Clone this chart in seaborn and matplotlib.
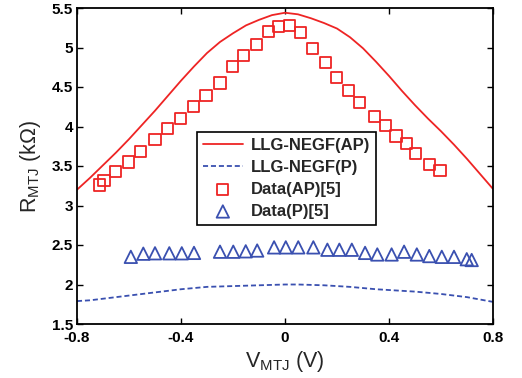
import matplotlib
matplotlib.use("Agg")
import matplotlib.pyplot as plt
import seaborn as sns
import pandas as pd

# Model curves (LLG-NEGF)
v_model = [-0.8, -0.75, -0.7, -0.65, -0.6, -0.55, -0.5, -0.45, -0.4, -0.35, -0.3,
           -0.25, -0.2, -0.15, -0.1, -0.05, 0.0, 0.05, 0.1, 0.15, 0.2, 0.25, 0.3,
           0.35, 0.4, 0.45, 0.5, 0.55, 0.6, 0.65, 0.7, 0.75, 0.8]
r_model_ap = [3.20, 3.35, 3.51, 3.67, 3.84, 4.02, 4.20, 4.39, 4.58, 4.76, 4.93,
              5.07, 5.18, 5.28, 5.35, 5.41, 5.44, 5.42, 5.37, 5.31, 5.24, 5.13, 4.99,
              4.82, 4.64, 4.45, 4.27, 4.10, 3.94, 3.77, 3.59, 3.40, 3.21]
r_model_p = [1.79, 1.80, 1.82, 1.84, 1.86, 1.88, 1.90, 1.92, 1.94, 1.955, 1.97,
             1.975, 1.98, 1.985, 1.99, 1.995, 2.00, 2.00, 1.995, 1.99, 1.98, 1.97, 1.955,
             1.94, 1.93, 1.92, 1.91, 1.895, 1.88, 1.86, 1.84, 1.81, 1.78]

# Measured data [5]
v_data_ap = [-0.715, -0.696, -0.651, -0.603, -0.555, -0.50, -0.451, -0.401, -0.353, -0.304,
             -0.25, -0.203, -0.158, -0.109, -0.064, -0.026, 0.017, 0.060, 0.105, 0.156,
             0.199, 0.243, 0.288, 0.343, 0.388, 0.427, 0.467, 0.503, 0.556, 0.596]
r_data_ap = [3.26, 3.32, 3.43, 3.55, 3.68, 3.83, 3.97, 4.10, 4.25, 4.39,
             4.55, 4.76, 4.90, 5.04, 5.20, 5.27, 5.28, 5.19, 4.99, 4.81,
             4.62, 4.46, 4.30, 4.13, 4.01, 3.88, 3.78, 3.66, 3.52, 3.44]
v_data_p = [-0.593, -0.545, -0.5, -0.445, -0.397, -0.35, -0.25, -0.199, -0.151, -0.107,
            -0.042, 0.003, 0.051, 0.109, 0.163, 0.209, 0.257, 0.308, 0.355, 0.410,
            0.458, 0.507, 0.555, 0.603, 0.650, 0.699, 0.718]
r_data_p = [2.35, 2.39, 2.395, 2.395, 2.395, 2.40, 2.415, 2.415, 2.42, 2.43,
            2.47, 2.47, 2.47, 2.47, 2.44, 2.44, 2.44, 2.40, 2.38, 2.38,
            2.415, 2.38, 2.36, 2.35, 2.35, 2.32, 2.31]

x_ticks = [-0.8, -0.4, 0, 0.4, 0.8]
x_ticklabels = ["-0.8", "-0.4", "0", "0.4", "0.8"]
y_ticks = [1.5, 2, 2.5, 3, 3.5, 4, 4.5, 5, 5.5]
y_ticklabels = ["1.5", "2", "2.5", "3", "3.5", "4", "4.5", "5", "5.5"]

RED = "#EE2424"
BLUE = "#3A50B0"

sns.set_style("ticks")
plt.rcParams["font.family"] = ["Liberation Sans", "DejaVu Sans"]
plt.rcParams["mathtext.fontset"] = "custom"
plt.rcParams["mathtext.rm"] = "Liberation Sans"

fig = plt.figure(figsize=(5.22, 3.78), dpi=100)
ax = fig.add_axes([77 / 522, 1 - 324 / 378, 416 / 522, 316 / 378])

df_model = pd.DataFrame({"V": v_model, "AP": r_model_ap, "P": r_model_p})
df_ap = pd.DataFrame({"V": v_data_ap, "R": r_data_ap})
df_p = pd.DataFrame({"V": v_data_p, "R": r_data_p})

sns.lineplot(data=df_model, x="V", y="AP", ax=ax, color=RED, lw=1.3,
             label="LLG-NEGF(AP)")
sns.lineplot(data=df_model, x="V", y="P", ax=ax, color=BLUE, lw=1.3,
             linestyle=(0, (2.8, 1.6)), label="LLG-NEGF(P)")
sns.scatterplot(data=df_ap, x="V", y="R", ax=ax, marker="s", s=64,
                facecolor="none", edgecolor=RED, linewidth=1.3,
                label="Data(AP)[5]")
sns.scatterplot(data=df_p, x="V", y="R", ax=ax, marker="^", s=80,
                facecolor="none", edgecolor=BLUE, linewidth=1.3,
                label="Data(P)[5]")

ax.set_xlim(-0.8, 0.8)
ax.set_ylim(1.5, 5.5)
ax.set_xticks(x_ticks)
ax.set_xticklabels(x_ticklabels, fontweight="bold", fontsize=11)
ax.set_yticks(y_ticks)
ax.set_yticklabels(y_ticklabels, fontweight="bold", fontsize=11)
ax.tick_params(direction="in", length=4, width=1, top=True, right=True,
               colors="black")
ax.tick_params(axis="x", pad=5)
ax.tick_params(axis="y", pad=3)
for s in ax.spines.values():
    s.set_linewidth(1.3)
    s.set_color("black")

ax.set_xlabel(r"$\mathregular{V_{MTJ}}$ (V)", fontsize=15.5, labelpad=3)
ax.set_ylabel(r"$\mathregular{R_{MTJ}}$ (k$\mathregular{\Omega}$)", fontsize=15.5, labelpad=6)

leg = ax.legend(loc="upper left", bbox_to_anchor=((197 - 77) / 416, (324 - 132) / 316),
                frameon=True, fancybox=False, edgecolor="black", framealpha=1,
                prop={"weight": "bold", "size": 12}, handlelength=2.4,
                handletextpad=0.5, borderpad=0.35, labelspacing=0.42,
                borderaxespad=0)
leg.get_frame().set_linewidth(1.2)

fig.savefig("out.png", dpi=100)
